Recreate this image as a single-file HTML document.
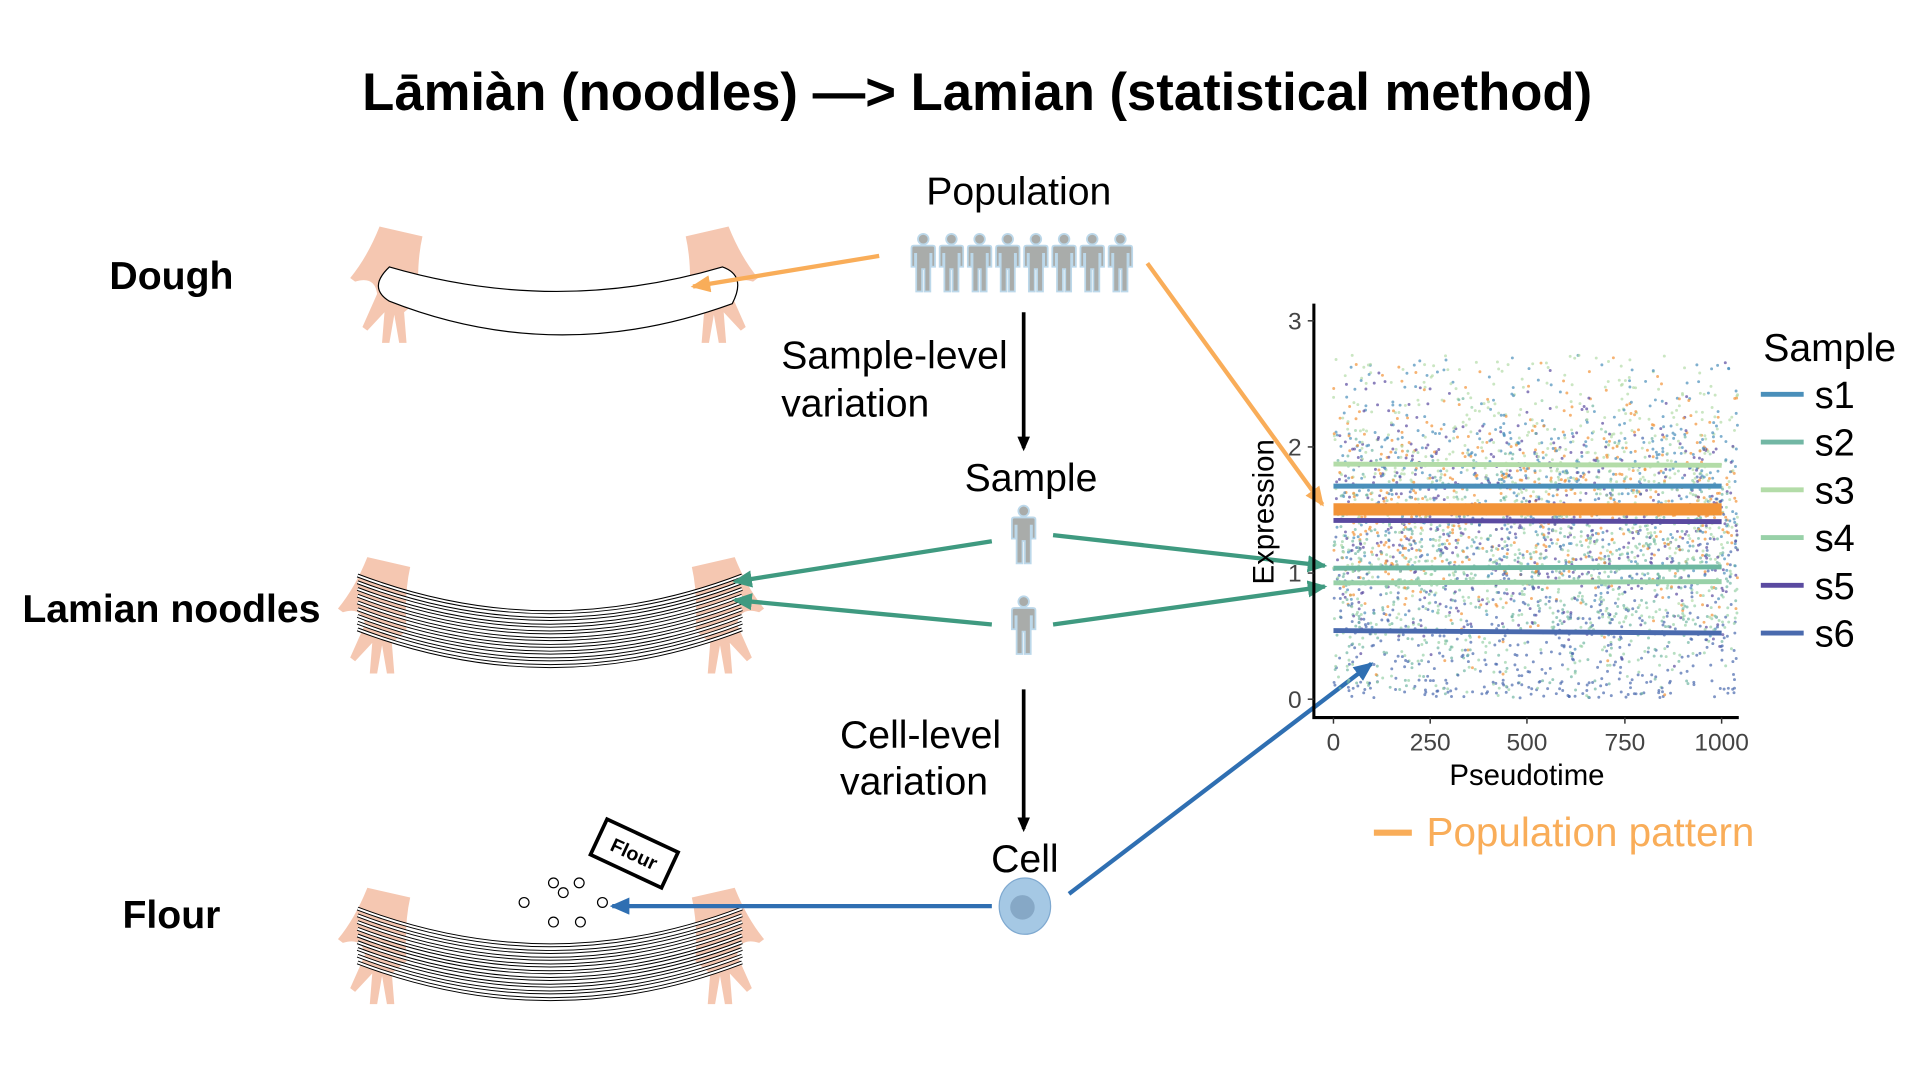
<!DOCTYPE html>
<html><head><meta charset="utf-8"><style>
html,body{margin:0;padding:0;background:#fff;}
svg{display:block;font-family:"Liberation Sans",Arial,sans-serif;}
</style></head><body>
<svg id="s" width="1920" height="1080" viewBox="0 0 1568 882" xmlns="http://www.w3.org/2000/svg">
<defs>
<marker id="ao" markerWidth="16" markerHeight="14" refX="14" refY="7" orient="auto" markerUnits="userSpaceOnUse" viewBox="0 0 16 14"><path d="M0,0 L16,7 L0,14 z" fill="#f9ad59"/></marker>
<marker id="ag" markerWidth="16" markerHeight="14" refX="14" refY="7" orient="auto" markerUnits="userSpaceOnUse" viewBox="0 0 16 14"><path d="M0,0 L16,7 L0,14 z" fill="#3f9a80"/></marker>
<marker id="ab" markerWidth="16" markerHeight="14" refX="14" refY="7" orient="auto" markerUnits="userSpaceOnUse" viewBox="0 0 16 14"><path d="M0,0 L16,7 L0,14 z" fill="#2f6fb2"/></marker>
<marker id="ak" markerWidth="12" markerHeight="14" refX="11" refY="6" orient="auto" markerUnits="userSpaceOnUse" viewBox="0 0 14 12"><path d="M0,0 L14,6 L0,12 z" fill="#000"/></marker>
<symbol id="p" viewBox="0 0 22 52">
<g fill="#a9acaa" stroke="#bcd8ea" stroke-width="1.5">
<circle cx="11" cy="5.5" r="4.5"/>
<path d="M3,11 H19 Q21,11 21,13 V29 H18 V18 H17 V50 H12 V31 H10 V50 H5 V18 H4 V29 H1 V13 Q1,11 3,11 z"/>
</g></symbol>
<g id="hand"><path d="M0,0 L35,8 Q30,30 32,60 L20,70 L22,95 L16,95 L12,72 L8,95 L2,95 L4,70 L-10,85 L-14,82 L-2,55 Q-4,40 -20,45 L-24,42 Q-10,25 0,0 z" fill="#f5c7b1"/></g>
</defs>
<rect width="1568" height="882" fill="#fff"/>
<text x="798" y="90" font-size="43" font-weight="bold" text-anchor="middle">Lāmiàn (noodles) —&gt; Lamian (statistical method)</text>

<text x="140" y="236" font-size="32" font-weight="bold" text-anchor="middle">Dough</text>
<text x="140" y="508" font-size="32" font-weight="bold" text-anchor="middle">Lamian noodles</text>
<text x="140" y="758" font-size="32" font-weight="bold" text-anchor="middle">Flour</text>

<use href="#hand" transform="translate(310,185)"/>
<use href="#hand" transform="translate(595,185) scale(-1,1)"/>
<path d="M318,218 Q455,258 590,218 Q610,225 598,248 Q455,300 318,246 Q300,235 318,218 z" fill="#fff" stroke="#000" stroke-width="1"/>

<use href="#hand" transform="translate(300,455)"/>
<use href="#hand" transform="translate(600,455) scale(-1,1)"/>
<g id="nd" fill="none"></g>
<use href="#hand" transform="translate(300,725)"/>
<use href="#hand" transform="translate(600,725) scale(-1,1)"/>
<g id="nd2" fill="none"></g>
<g fill="#fff" stroke="#000" stroke-width="1">
<circle cx="452" cy="721" r="4"/><circle cx="460" cy="729" r="4"/><circle cx="473" cy="721" r="4"/><circle cx="428" cy="737" r="4"/><circle cx="492" cy="737" r="4"/><circle cx="452" cy="753" r="4"/><circle cx="474" cy="753" r="4"/>
</g>
<g transform="translate(518,697) rotate(25)">
<rect x="-32" y="-16" width="64" height="32" fill="#fff" stroke="#000" stroke-width="3"/>
<text x="0" y="6" font-size="16" font-weight="bold" text-anchor="middle">Flour</text></g>

<text x="832" y="167" font-size="32" text-anchor="middle">Population</text>
<g id="pop"></g>
<line x1="836" y1="255" x2="836" y2="366" stroke="#000" stroke-width="3" marker-end="url(#ak)"/>
<text x="638" y="301" font-size="32">Sample-level</text>
<text x="638" y="340" font-size="32">variation</text>
<text x="842" y="401" font-size="32" text-anchor="middle">Sample</text>
<use href="#p" x="825" y="412" width="22" height="50"/>
<use href="#p" x="825" y="486" width="22" height="50"/>
<line x1="836" y1="563" x2="836" y2="677" stroke="#000" stroke-width="3" marker-end="url(#ak)"/>
<text x="686" y="611" font-size="32">Cell-level</text>
<text x="686" y="649" font-size="32">variation</text>
<text x="837" y="712" font-size="32" text-anchor="middle">Cell</text>
<ellipse cx="837" cy="740" rx="21" ry="23" fill="#a5c8e4" stroke="#7fa9d0" stroke-width="1"/>
<circle cx="835" cy="741" r="10" fill="#86a8c6"/>

<g stroke-width="3.5" fill="none">
<line x1="718" y1="209" x2="566" y2="234" stroke="#f9ad59" marker-end="url(#ao)"/>
<line x1="937" y1="215" x2="1080" y2="412" stroke="#f9ad59" marker-end="url(#ao)"/>
<line x1="810" y1="442" x2="600" y2="475" stroke="#3f9a80" marker-end="url(#ag)"/>
<line x1="810" y1="510" x2="600" y2="490" stroke="#3f9a80" marker-end="url(#ag)"/>
<line x1="860" y1="437" x2="1082" y2="462" stroke="#3f9a80" marker-end="url(#ag)"/>
<line x1="860" y1="510" x2="1082" y2="479" stroke="#3f9a80" marker-end="url(#ag)"/>
<line x1="810" y1="740" x2="500" y2="740" stroke="#2f6fb2" marker-end="url(#ab)"/>
<line x1="873" y1="730" x2="1120" y2="542" stroke="#2f6fb2" marker-end="url(#ab)"/>
</g>

<g id="dots"></g>
<g stroke-width="4">
<line x1="1089" y1="379" x2="1406" y2="380" stroke="#b3dca8"/>
<line x1="1089" y1="397" x2="1406" y2="397" stroke="#4a8fba"/>
<line x1="1089" y1="425" x2="1406" y2="426" stroke="#5a4aa0"/>
<line x1="1089" y1="464" x2="1406" y2="463" stroke="#6cb7a0"/>
<line x1="1089" y1="476" x2="1406" y2="475" stroke="#98d1a8"/>
<line x1="1089" y1="515" x2="1406" y2="517" stroke="#4a6aae"/>
</g>
<line x1="1089" y1="416" x2="1406" y2="416" stroke="#f29338" stroke-width="10"/>
<g stroke="#000" stroke-width="2.5" fill="none"><path d="M1073,248 V586 H1420"/></g>
<g stroke="#333" stroke-width="1.2">
<line x1="1068" y1="262" x2="1073" y2="262"/><line x1="1068" y1="365" x2="1073" y2="365"/><line x1="1068" y1="468" x2="1073" y2="468"/><line x1="1068" y1="571" x2="1073" y2="571"/>
<line x1="1089" y1="586" x2="1089" y2="591"/><line x1="1168" y1="586" x2="1168" y2="591"/><line x1="1247" y1="586" x2="1247" y2="591"/><line x1="1327" y1="586" x2="1327" y2="591"/><line x1="1406" y1="586" x2="1406" y2="591"/>
</g>
<g font-size="20" fill="#444">
<text x="1063" y="269" text-anchor="end">3</text><text x="1063" y="372" text-anchor="end">2</text><text x="1063" y="475" text-anchor="end">1</text><text x="1063" y="578" text-anchor="end">0</text>
<g text-anchor="middle"><text x="1089" y="613">0</text><text x="1168" y="613">250</text><text x="1247" y="613">500</text><text x="1327" y="613">750</text><text x="1406" y="613">1000</text></g>
</g>
<text x="1247" y="641" font-size="24" text-anchor="middle">Pseudotime</text>
<text transform="translate(1040,418) rotate(-90)" font-size="24" text-anchor="middle">Expression</text>
<text x="1440" y="295" font-size="32">Sample</text>
<g stroke-width="4">
<line x1="1438" y1="322" x2="1473" y2="322" stroke="#4a8fba"/>
<line x1="1438" y1="361" x2="1473" y2="361" stroke="#72b7a4"/>
<line x1="1438" y1="400" x2="1473" y2="400" stroke="#b3dca8"/>
<line x1="1438" y1="439" x2="1473" y2="439" stroke="#98d1a8"/>
<line x1="1438" y1="478" x2="1473" y2="478" stroke="#5a4aa0"/>
<line x1="1438" y1="517" x2="1473" y2="517" stroke="#4a6aae"/>
</g>
<g font-size="31"><text x="1482" y="333">s1</text><text x="1482" y="372">s2</text><text x="1482" y="411">s3</text><text x="1482" y="450">s4</text><text x="1482" y="489">s5</text><text x="1482" y="528">s6</text></g>
<line x1="1122" y1="680" x2="1153" y2="680" stroke="#f9ad59" stroke-width="5"/>
<text x="1165" y="691" font-size="33" fill="#f9ad59">Population pattern</text>
</svg>
<script>
var NS="http://www.w3.org/2000/svg";
function el(t,a,p){var e=document.createElementNS(NS,t);for(var k in a)e.setAttribute(k,a[k]);p.appendChild(e);return e;}
var pop=document.getElementById('pop');
for(var i=0;i<8;i++)el('use',{href:'#p',x:743+i*23,y:190,width:22,height:50},pop);
function nood(g,top){for(var i=0;i<9;i++){var y=top+i*5.5;
el('path',{d:'M292,'+y+' Q450,'+(y+60)+' 606,'+y,'stroke-width':'3.2',stroke:'#000'},g);
el('path',{d:'M292,'+y+' Q450,'+(y+60)+' 606,'+y,'stroke-width':'1.6',stroke:'#fff'},g);}}
nood(document.getElementById('nd'),470);
nood(document.getElementById('nd2'),742);
var seed=7;function r(){seed=(seed*16807)%2147483647;return seed/2147483647;}
function n(){return (r()+r()+r()+r()-2)*0.9;}
var cols=['#4a8fba','#72b7a4','#b3dca8','#98d1a8','#5a4aa0','#4a6aae','#f29338'];
var means=[397,463,379,475,425,515,416];
var d=document.getElementById('dots');
for(var i=0;i<3500;i++){var c=Math.floor(r()*7);var y=means[c]+n()*95;if(y<290)y=290+r()*20;if(y>570)y=555+r()*15;
el('circle',{cx:(1089+r()*330).toFixed(1),cy:y.toFixed(1),r:1.2,fill:cols[c],opacity:0.7},d);}
</script>
</body></html>
